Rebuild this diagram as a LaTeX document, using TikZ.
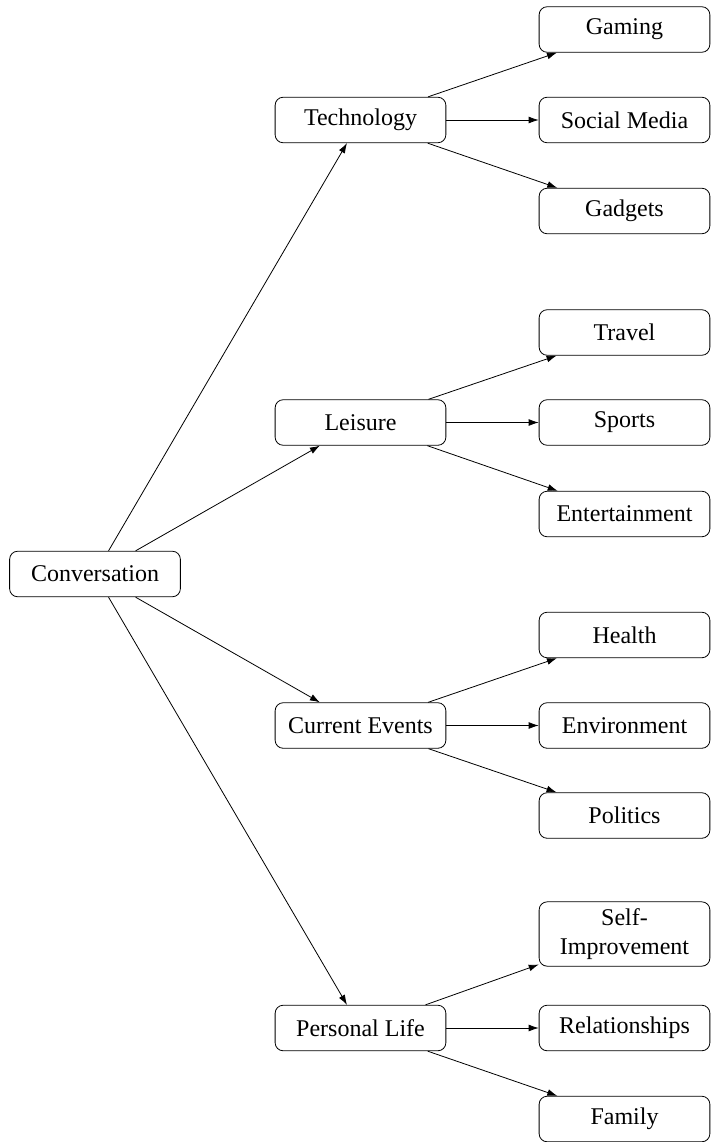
\documentclass[tikz,border=0pt]{standalone}
\usepackage{fontspec}
\setmainfont{Liberation Serif}
\usetikzlibrary{arrows.meta}
\begin{document}
\begin{tikzpicture}[x=1pt, y=1pt, font=\fontsize{12}{14.5}\selectfont, line join=round, >={Latex[length=5pt,width=3.4pt]},
  topic/.style={draw, rounded corners=4pt, minimum width=3cm, minimum height=0.8cm, align=center}]
\def\xa{47.5} \def\xb{180.25} \def\xc{312.25}
\useasboundingbox (0,0) rectangle (355.5,-571);
% root and main topics
\node[topic] (conv) at (\xa,-287) {Conversation};
\node[topic] (tech) at (\xb,-60) {Technology};
\node[topic] (leis) at (\xb,-211.25) {Leisure};
\node[topic] (curr) at (\xb,-362.75) {Current Events};
\node[topic] (pers) at (\xb,-514) {Personal Life};
% subtopics
\node[topic] (gaming) at (\xc,-14.75) {Gaming};
\node[topic] (social) at (\xc,-60) {Social Media};
\node[topic] (gadgets) at (\xc,-105.5) {Gadgets};
\node[topic] (travel) at (\xc,-166.25) {Travel};
\node[topic] (sports) at (\xc,-211.25) {Sports};
\node[topic] (enter) at (\xc,-257) {Entertainment};
\node[topic] (health) at (\xc,-317.5) {Health};
\node[topic] (envir) at (\xc,-362.75) {Environment};
\node[topic] (polit) at (\xc,-407.75) {Politics};
\node[topic] (selfimp) at (\xc,-467) {Self-\\Improvement};
\node[topic] (relat) at (\xc,-514) {Relationships};
\node[topic] (family) at (\xc,-559.5) {Family};
\foreach \t in {tech,leis,curr,pers} \draw[->] (conv)--(\t);
\foreach \t/\s in {tech/gaming,tech/social,tech/gadgets,leis/travel,leis/sports,leis/enter,
  curr/health,curr/envir,curr/polit,pers/selfimp,pers/relat,pers/family} \draw[->] (\t)--(\s);
\end{tikzpicture}
\end{document}
